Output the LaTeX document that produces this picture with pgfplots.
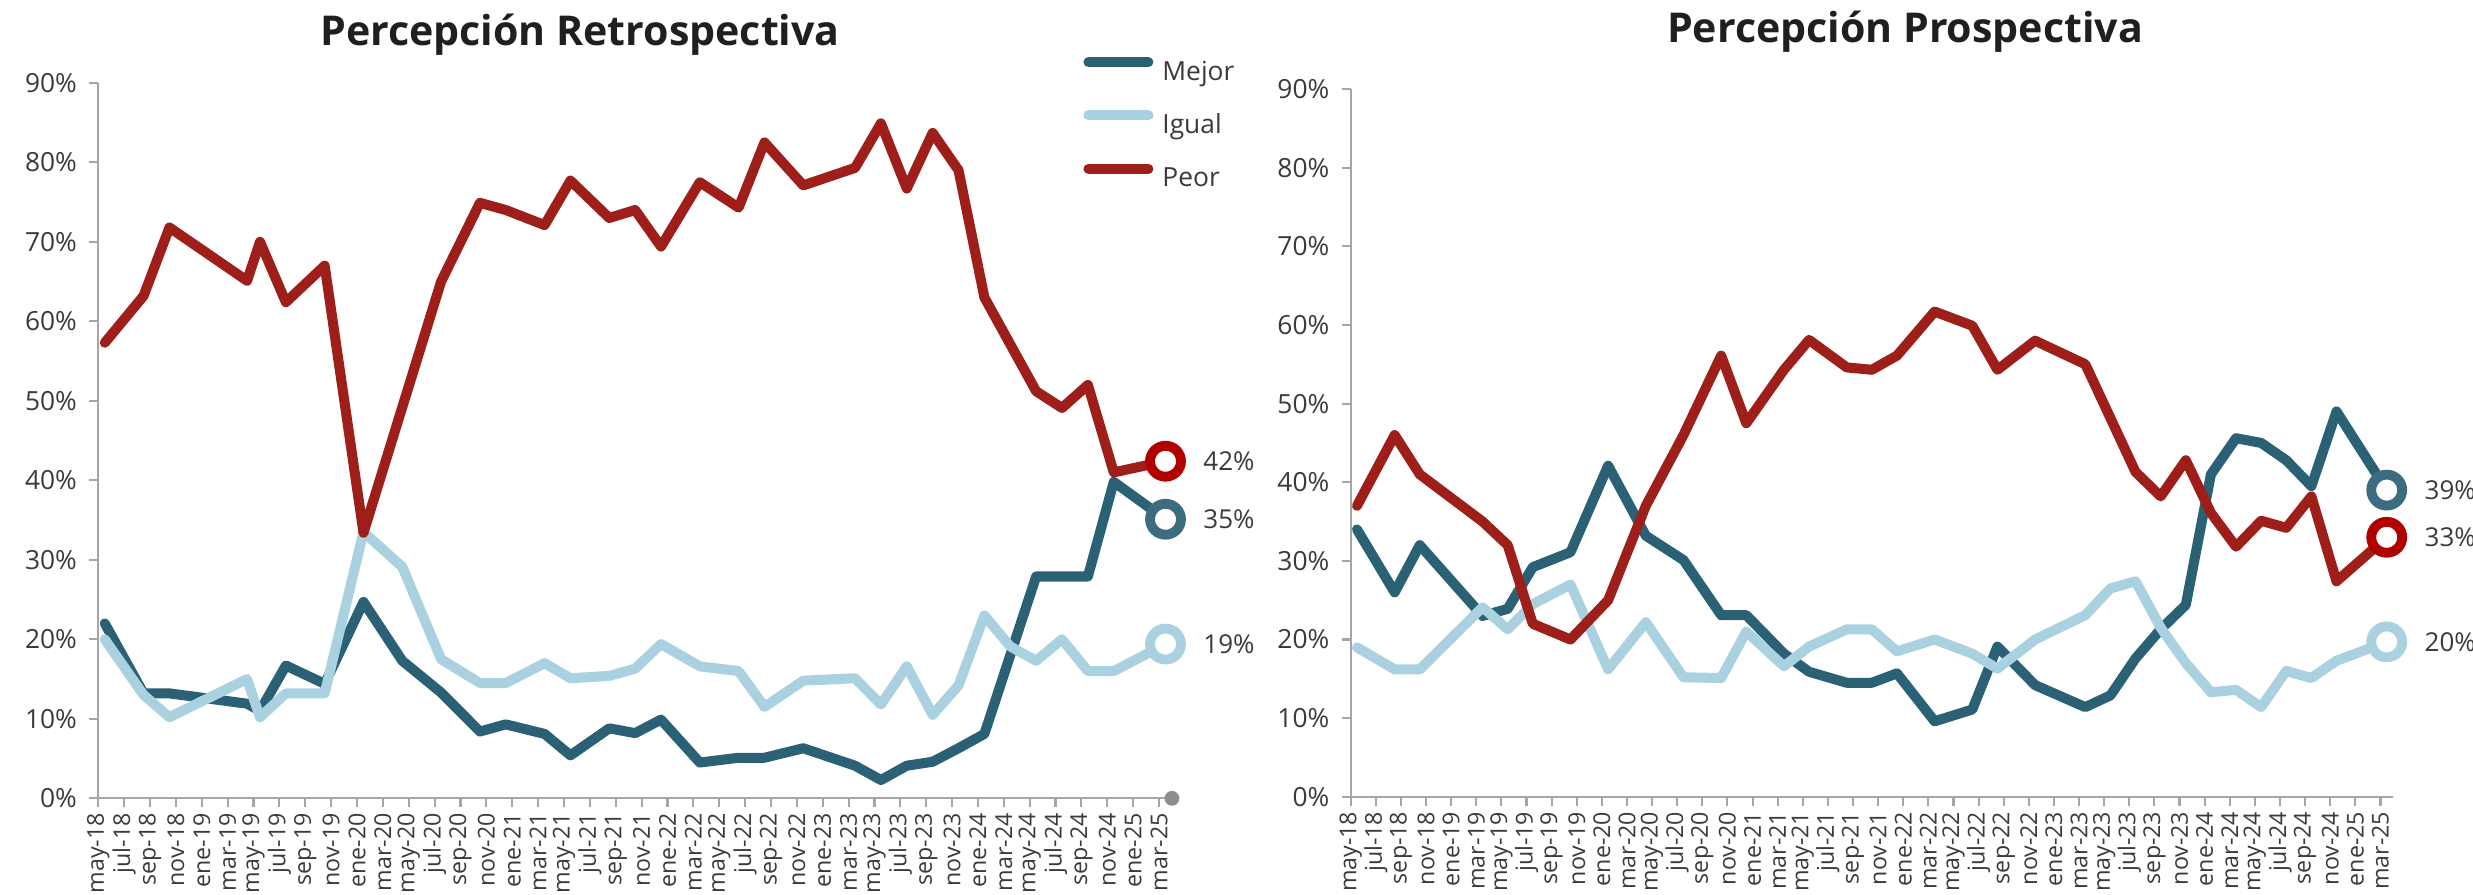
\documentclass[border=0pt]{standalone}
\usepackage{fontspec}
\setmainfont{Open Sans}
\usepackage{pgfplots}
\pgfplotsset{compat=1.18}
\definecolor{mejor}{HTML}{2B6175}
\definecolor{igual}{HTML}{A9D1E0}
\definecolor{peor}{HTML}{9E1F19}
\definecolor{peorc}{HTML}{B00000}
\definecolor{mejorc}{HTML}{3C6C80}
\definecolor{axgray}{HTML}{A6A6A6}
\definecolor{txtgray}{HTML}{3A3A3A}
\definecolor{ttl}{HTML}{1F1F1F}

\pgfplotsset{
  panel/.style={
    scale only axis, clip=false,
    xmin=0, xmax=83, ymin=0, ymax=90,
    axis x line*=bottom, axis y line*=left,
    axis line style={draw=axgray, line width=0.6pt},
    xtick={0,2,...,82},
    xticklabels={may-18,jul-18,sep-18,nov-18,ene-19,mar-19,may-19,jul-19,sep-19,nov-19,ene-20,mar-20,may-20,jul-20,sep-20,nov-20,ene-21,mar-21,may-21,jul-21,sep-21,nov-21,ene-22,mar-22,may-22,jul-22,sep-22,nov-22,ene-23,mar-23,may-23,jul-23,sep-23,nov-23,ene-24,mar-24,may-24,jul-24,sep-24,nov-24,ene-25,mar-25},
    ytick={0,10,...,90},
    yticklabels={0\%,10\%,20\%,30\%,40\%,50\%,60\%,70\%,80\%,90\%},
    tick align=outside, major tick length=0.9mm,
    every tick/.style={draw=axgray, line width=0.6pt},
    x tick label style={rotate=90, anchor=east, font=\fontsize{6.6}{7}\selectfont, inner sep=1.5pt, text=txtgray},
    y tick label style={font=\fontsize{7.5}{9}\selectfont, text=txtgray},
    /pgf/number format/assume math mode=true,
  },
  ln/.style={line width=2.85pt, line join=round, line cap=round, mark=none},
  endmark/.style={only marks, mark=*, mark size=4.4pt,
    mark options={draw=#1, fill=white, line width=2.8pt},
    nodes near coords, point meta=explicit symbolic,
    every node near coord/.style={anchor=west, inner sep=0pt, xshift=3.3mm, font=\fontsize{7.4}{9}\selectfont, text=txtgray}},
}

\begin{document}
\begin{tikzpicture}
\path[use as bounding box] (0,0) rectangle (247.3mm,89.4mm);

\node[anchor=base, font=\bfseries\fontsize{11.7}{13}\selectfont, text=ttl] at (58.0mm,84.9mm) {Percepción Retrospectiva};
\node[anchor=base, font=\bfseries\fontsize{11.7}{13}\selectfont, text=ttl] at (190.5mm,85.1mm) {Percepción Prospectiva};

% ---------------- Left panel ----------------
\begin{axis}[panel,
  at={(9.83mm,9.57mm)}, anchor=south west,
  width=107.37mm, height=71.55mm,
  legend style={at={(axis cs:76.1,93.3)}, anchor=north west, draw=none, fill=none,
    inner sep=0pt, row sep=6.5pt, column sep=0.9mm,
    font=\fontsize{7.5}{9}\selectfont, text=txtgray,
    nodes={inner sep=0pt, text height=6pt, text depth=2pt}},
  legend cell align=left,
  legend image code/.code={\draw[#1, line cap=round] (0mm,0.6ex) -- (6mm,0.6ex);},
]
\addplot[ln, mejor] coordinates {
(0.5,22) (3.5,13.2) (5.5,13.2) (11.5,11.9) (12.5,11) (14.5,16.7) (17.5,14.4)
(20.5,24.7) (23.5,17.3) (26.5,13.3) (29.5,8.4) (31.5,9.3) (34.5,8.1) (36.5,5.4)
(39.5,8.8) (41.5,8.2) (43.5,9.9) (46.5,4.5) (49.5,5.1) (51.5,5.1) (54.5,6.3)
(58.5,4.1) (60.5,2.3) (62.5,4.1) (64.5,4.6) (66.5,6.3) (68.5,8.1) (72.5,27.9)
(74.5,27.9) (76.5,27.9) (78.5,39.8) (82.5,35.1)};
\addplot[ln, igual] coordinates {
(0.5,20) (3.5,13) (5.5,10.2) (11.5,15) (12.5,10.2) (14.5,13.2) (17.5,13.2)
(20.5,33.5) (23.5,29.1) (26.5,17.5) (29.5,14.5) (31.5,14.5) (34.5,17) (36.5,15.1)
(39.5,15.4) (41.5,16.3) (43.5,19.4) (46.5,16.6) (49.5,16) (51.5,11.5) (54.5,14.8)
(58.5,15.1) (60.5,11.8) (62.5,16.6) (64.5,10.5) (66.5,14.2) (68.5,23) (70.5,19.1)
(72.5,17.3) (74.5,20) (76.5,16) (78.5,16) (82.5,19.4)};
\addplot[ln, peor] coordinates {
(0.5,57.3) (3.5,63.2) (5.5,71.8) (11.5,65.1) (12.5,70) (14.5,62.4) (17.5,67)
(20.5,33.4) (26.5,65) (29.5,74.9) (31.5,74) (34.5,72.1) (36.5,77.7) (39.5,73)
(41.5,74) (43.5,69.4) (46.5,77.5) (49.5,74.3) (51.5,82.5) (54.5,77.1) (58.5,79.3)
(60.5,84.9) (62.5,76.7) (64.5,83.7) (66.5,79) (68.5,63) (72.5,51.2) (74.5,49.1)
(76.5,52) (78.5,41) (82.5,42.4)};
\legend{Mejor,Igual,Peor}
\addplot[endmark=mejorc] coordinates {(82.5,35.1) [35\%]};
\addplot[endmark=igual] coordinates {(82.5,19.4) [19\%]};
\addplot[endmark=peorc] coordinates {(82.5,42.4) [42\%]};
\addplot[only marks, mark=*, mark size=1.9pt, color=axgray!85!black] coordinates {(83,0)};
\end{axis}

% ---------------- Right panel ----------------
\begin{axis}[panel,
  at={(135.07mm,9.72mm)}, anchor=south west,
  width=104.23mm, height=70.78mm,
]
\addplot[ln, mejor] coordinates {
(0.5,34) (3.5,26) (5.5,32) (10.5,23) (12.5,23.9) (14.5,29.2) (17.5,31.1)
(20.5,42.1) (23.5,33.2) (26.5,30.1) (29.5,23.1) (31.5,23.1) (34.5,18.2) (36.5,15.9)
(39.5,14.5) (41.5,14.5) (43.5,15.7) (46.5,9.6) (49.5,11.1) (51.5,19.1) (54.5,14.2)
(58.5,11.4) (60.5,12.9) (62.5,17.6) (64.5,21.3) (66.5,24.4) (68.5,41) (70.5,45.6)
(72.5,45) (74.5,42.8) (76.5,39.5) (78.5,49) (82.5,39)};
\addplot[ln, igual] coordinates {
(0.5,19) (3.5,16.2) (5.5,16.2) (10.5,24.1) (12.5,21.3) (14.5,24.5) (17.5,27)
(20.5,16.2) (23.5,22.2) (26.5,15.2) (29.5,15.1) (31.5,21) (34.5,16.6) (36.5,19.1)
(39.5,21.3) (41.5,21.3) (43.5,18.5) (46.5,20) (49.5,18.2) (51.5,16.3) (54.5,20)
(58.5,23.1) (60.5,26.5) (62.5,27.4) (64.5,21.5) (66.5,17) (68.5,13.3) (70.5,13.6)
(72.5,11.4) (74.5,16) (76.5,15.1) (78.5,17.3) (82.5,19.7)};
\addplot[ln, peor] coordinates {
(0.5,37) (3.5,46) (5.5,41) (10.5,35) (12.5,32) (14.5,22) (17.5,20)
(20.5,25) (23.5,37) (26.5,46) (29.5,56.1) (31.5,47.5) (34.5,54.3) (36.5,58.1)
(39.5,54.6) (41.5,54.3) (43.5,56.1) (46.5,61.7) (49.5,59.9) (51.5,54.3) (54.5,58)
(58.5,55) (62.5,41.3) (64.5,38.2) (66.5,42.8) (68.5,36.1) (70.5,31.8) (72.5,35.1)
(74.5,34.2) (76.5,38.2) (78.5,27.4) (82.5,33)};
\addplot[endmark=mejorc] coordinates {(82.5,39) [39\%]};
\addplot[endmark=igual] coordinates {(82.5,19.7) [20\%]};
\addplot[endmark=peorc] coordinates {(82.5,33) [33\%]};
\end{axis}
\end{tikzpicture}
\end{document}
